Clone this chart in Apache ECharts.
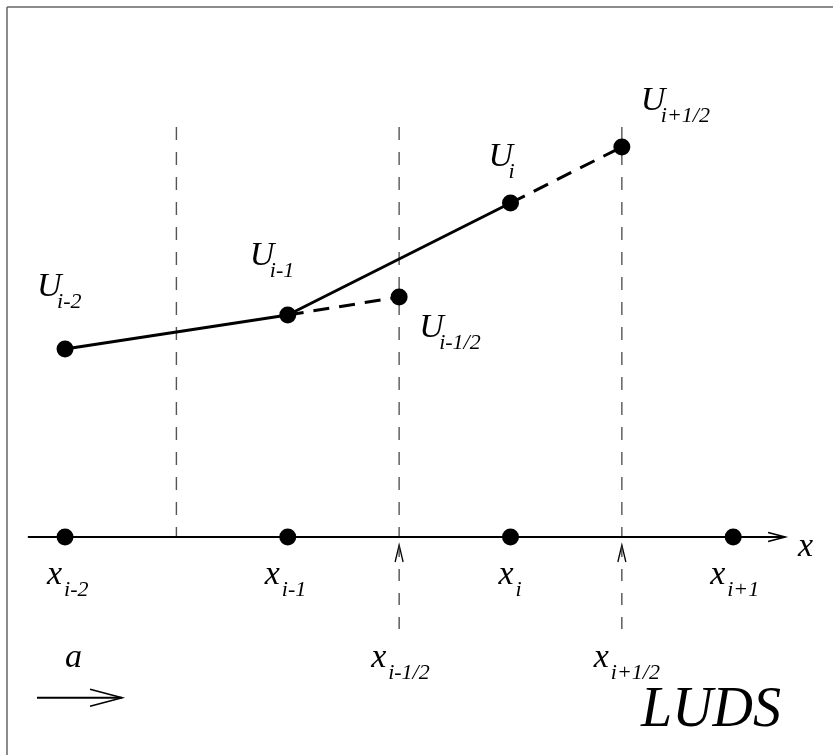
<!DOCTYPE html>
<html><head><meta charset="utf-8">
<script src="https://cdn.jsdelivr.net/npm/echarts@6/dist/echarts.min.js"></script>
<style>html,body{margin:0;padding:0;background:#fff}#c{width:833px;height:755px}</style>
</head><body><div id="c"></div>
<script>
// ---------- data ----------
const nodeX = [-2, -1, 0, 1];                 // x_{i-2}, x_{i-1}, x_i, x_{i+1}
const nodeSubs = ['i-2', 'i-1', 'i', 'i+1'];
const cellX = [-2, -1, 0];                     // cells with values U
const cellU = [1.88, 2.22, 3.34];              // U_{i-2}, U_{i-1}, U_i
const cellSubs = ['i-2', 'i-1', 'i'];
const faceX = [-1.5, -0.5, 0.5];               // cell interfaces
const faceSubs = [null, 'i-1/2', 'i+1/2'];
const faceU = [null, 2.40, 3.90];              // U_{i-1/2}, U_{i+1/2}
const faceTop = 4.10, faceBottom = -1.0;
const axisRange = [-2.167, 1.233];
const windArrow = [[-2.126, -1.607], [-1.744, -1.607]];

// ---------- styling ----------
const FONT = '"Liberation Serif", "Times New Roman", serif';
const MAIN = 34, SUB = 22;
const chart = echarts.init(document.getElementById('c'), null, {renderer: 'canvas'});

const series = [];
// solid piecewise line through cell values
series.push({type: 'line', data: cellX.map((x, k) => [x, cellU[k]]), symbol: 'none',
  lineStyle: {color: '#000', width: 3}, z: 3});
// dashed extrapolations to the interfaces
faceX.forEach((fx, k) => {
  if (faceU[k] === null) return;
  const ci = cellX.indexOf(fx - 0.5);
  series.push({type: 'line', data: [[cellX[ci], cellU[ci]], [fx, faceU[k]]], symbol: 'none',
    lineStyle: {color: '#000', width: 3, type: [16, 10]}, z: 3});
});
// vertical interface lines (gray dashed)
faceX.forEach((fx, k) => {
  series.push({type: 'line', data: [[fx, faceTop], [fx, 0]], symbol: 'none',
    lineStyle: {color: '#555', width: 1.4, type: [13, 12]}, z: 1});
  if (faceSubs[k]) {
    series.push({type: 'line', data: [[fx, -0.08], [fx, faceBottom]], symbol: 'none',
      lineStyle: {color: '#333', width: 1.2, type: [12, 12]}, z: 1});
  }
});
// x axis line
series.push({type: 'line', data: [[axisRange[0], 0], [axisRange[1], 0]], symbol: 'none',
  lineStyle: {color: '#000', width: 2}, z: 2});
// wind arrow shaft
series.push({type: 'line', data: windArrow, symbol: 'none', lineStyle: {color: '#000', width: 2}, z: 2});
// dots
const dots = [];
cellX.forEach((x, k) => dots.push([x, cellU[k]]));
faceX.forEach((x, k) => { if (faceU[k] !== null) dots.push([x, faceU[k]]); });
nodeX.forEach(x => dots.push([x, 0]));
series.push({type: 'scatter', data: dots, symbolSize: 17, itemStyle: {color: '#000', opacity: 1}, z: 5});

chart.setOption({
  animation: false,
  grid: {left: 0, right: 0, top: 0, bottom: 0},
  xAxis: {type: 'value', min: -2.292, max: 1.448, show: false},
  yAxis: {type: 'value', min: -2.18, max: 5.37, show: false},
  series: series
});

const P = (x, y) => chart.convertToPixel({gridIndex: 0}, [x, y]);
const g = [];
function txt(x, base, text, size) {
  g.push({type: 'text', x: x, y: base - 0.3375 * size, z: 10,
    style: {text: text, font: 'italic ' + size + 'px ' + FONT, fill: '#000', align: 'left', verticalAlign: 'middle'}});
}
function lbl(x, base, main, sub, subDx) {
  txt(x, base, main, MAIN);
  txt(x + subDx, base + 11, sub, SUB);
}
// frame (top & left)
g.push({type: 'line', shape: {x1: 7, y1: 7, x2: 833, y2: 7}, style: {stroke: '#666', lineWidth: 1.5}});
g.push({type: 'line', shape: {x1: 7, y1: 7, x2: 7, y2: 755}, style: {stroke: '#666', lineWidth: 1.5}});

// U labels
const cellOff = [[-28, -50], [-38, -47], [-22, -34]];
cellX.forEach((x, k) => {
  const p = P(x, cellU[k]);
  lbl(p[0] + cellOff[k][0], p[1] + cellOff[k][1], 'U', cellSubs[k], 20);
});
const faceOff = [null, [20, 43], [19, -34]];
faceX.forEach((x, k) => {
  if (faceU[k] === null) return;
  const p = P(x, faceU[k]);
  lbl(p[0] + faceOff[k][0], p[1] + faceOff[k][1], 'U', faceSubs[k], 20);
});
// x labels at nodes
const nodeOff = [-18, -23, -12, -23];
nodeX.forEach((x, k) => {
  const p = P(x, 0);
  lbl(p[0] + nodeOff[k], p[1] + 50, 'x', nodeSubs[k], 17);
});
// x labels at interfaces + arrowheads
faceX.forEach((x, k) => {
  if (!faceSubs[k]) return;
  const p = P(x, 0);
  lbl(p[0] - 28, p[1] + 133, 'x', faceSubs[k], 17);
  const t = P(x, -0.08);
  g.push({type: 'polyline', shape: {points: [[t[0] - 4, t[1] + 17], [t[0], t[1]], [t[0] + 4, t[1] + 17]]},
    style: {stroke: '#000', lineWidth: 1.3, fill: null}});
});
// axis arrowhead and label
const ae = P(axisRange[1], 0);
g.push({type: 'polyline', shape: {points: [[ae[0] - 17, ae[1] - 4.5], [ae[0], ae[1]], [ae[0] - 17, ae[1] + 4.5]]},
  style: {stroke: '#000', lineWidth: 1.6, fill: null}});
txt(ae[0] + 13, ae[1] + 22, 'x', MAIN);
// wind arrow head and label
const w0 = P(windArrow[0][0], windArrow[0][1]);
const w1 = P(windArrow[1][0], windArrow[1][1]);
g.push({type: 'polyline', shape: {points: [[w1[0] - 32, w1[1] - 8.5], [w1[0], w1[1]], [w1[0] - 32, w1[1] + 8.5]]},
  style: {stroke: '#000', lineWidth: 1.6, fill: null}});
txt(w0[0] + 28, w0[1] - 28, 'a', MAIN);
// scheme name
txt(641, 730, 'LUDS', 56);

chart.setOption({graphic: g});
</script>
</body></html>
